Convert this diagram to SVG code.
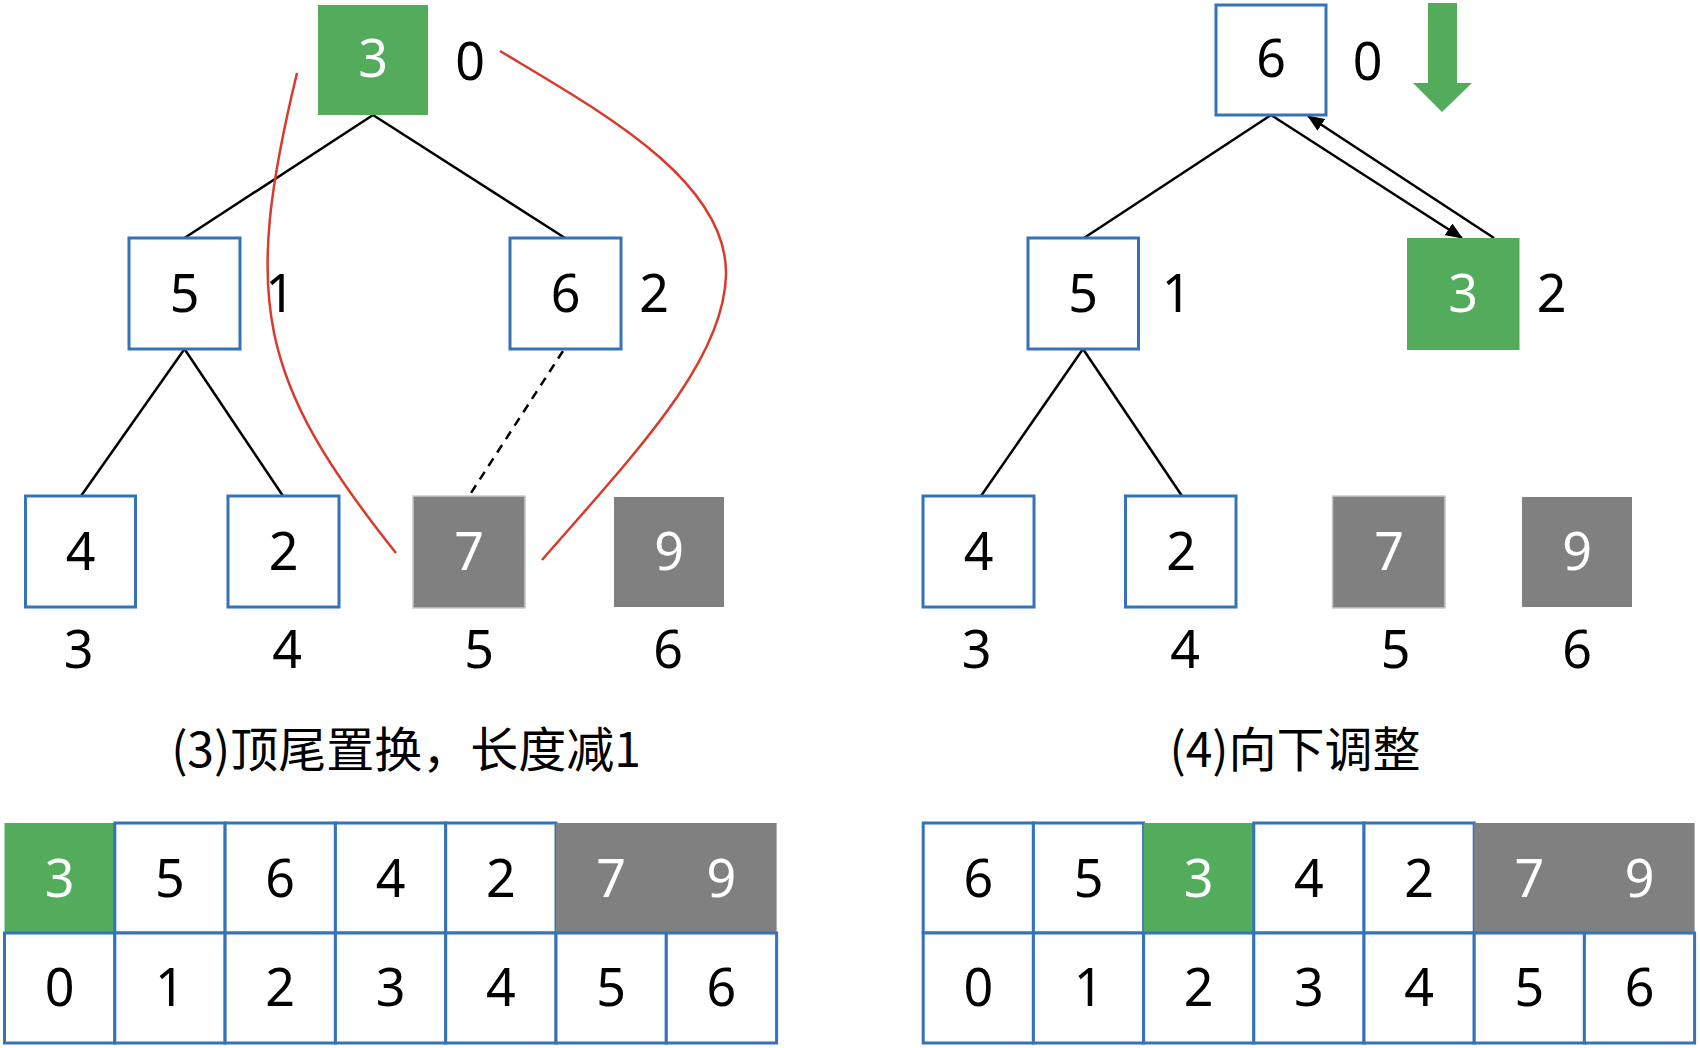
<svg xmlns="http://www.w3.org/2000/svg" width="1700" height="1048" viewBox="0 0 1700 1048">
<style>
.d{font-family:"Noto Sans","DejaVu Sans",sans-serif;font-size:52px;text-anchor:middle;fill:#000}
.w{fill:#fff}
.cap{font-family:"Noto Sans CJK SC","Noto Sans",sans-serif;font-size:48px;text-anchor:middle;fill:#000}
.bx{fill:#fff;stroke:#3473B7;stroke-width:3}
.gr{fill:#52AC5C}
.gy{fill:#808080}
.ln{stroke:#000;stroke-width:2.5;fill:none}
.rd{stroke:#D93A2B;stroke-width:2.5;fill:none}
</style>
<defs>
<marker id="ah" markerUnits="userSpaceOnUse" markerWidth="18" markerHeight="14" refX="16" refY="7" orient="auto">
<path d="M0,0 L17,7 L0,14 Z" fill="#000"/>
</marker>
</defs>
<rect width="1700" height="1048" fill="#fff"/>

<g id="connectors">
<line class="ln" x1="373" y1="115" x2="184.5" y2="238"/>
<line class="ln" x1="373" y1="115" x2="565" y2="238"/>
<line class="ln" x1="184.5" y1="349" x2="81" y2="496"/>
<line class="ln" x1="184.5" y1="349" x2="283" y2="496"/>
<line class="ln" x1="563" y1="351" x2="469" y2="496" stroke-dasharray="9,7"/>
<path class="rd" d="M297,73 C242,300 258,380 396,553"/>
<path class="rd" d="M500,51 C598,110 728,180 726,275 C724,360 638,450 542,560"/>
<line class="ln" x1="1271" y1="115" x2="1084" y2="238"/>
<line class="ln" x1="1271" y1="115" x2="1462" y2="238" marker-end="url(#ah)"/>
<line class="ln" x1="1494" y1="238" x2="1308" y2="116" marker-end="url(#ah)"/>
<line class="ln" x1="1083" y1="349" x2="981" y2="496"/>
<line class="ln" x1="1083" y1="349" x2="1182" y2="496"/>
</g>

<!-- Left tree -->
<g id="L0"><rect class="gr" x="318" y="5" width="110" height="110"/><text class="d w" x="373" y="77">3</text><text class="d" x="470" y="80">0</text></g>
<g id="L1"><rect class="bx" x="129" y="238" width="111" height="111"/><text class="d" x="184.5" y="312">5</text><text class="d" x="280" y="312">1</text></g>
<g id="L2"><rect class="bx" x="510" y="238" width="111" height="111"/><text class="d" x="565.5" y="312">6</text><text class="d" x="654" y="312">2</text></g>
<g id="L3"><rect class="bx" x="25.5" y="496" width="110" height="111"/><text class="d" x="80.5" y="570">4</text><text class="d" x="78.5" y="668">3</text></g>
<g id="L4"><rect class="bx" x="228" y="496" width="111" height="111"/><text class="d" x="283.5" y="570">2</text><text class="d" x="287" y="668">4</text></g>
<g id="L5"><rect class="gy" x="413" y="496" width="112" height="112" stroke="#c8c8c8" stroke-width="1.5"/><text class="d w" x="469" y="570">7</text><text class="d" x="479" y="668">5</text></g>
<g id="L6"><rect class="gy" x="614" y="497" width="110" height="110"/><text class="d w" x="669" y="570">9</text><text class="d" x="668" y="668">6</text></g>
<g id="cap3"><text class="cap" x="406" y="767">(3)顶尾置换，长度减1</text></g>

<!-- Right tree -->
<g id="R0"><rect class="bx" x="1216" y="5" width="110" height="110"/><text class="d" x="1271" y="77">6</text><text class="d" x="1367.5" y="80">0</text></g>
<g id="arrow"><polygon fill="#52AC5C" points="1428,3 1457,3 1457,83 1472,83 1442,112 1413,83 1428,83"/></g>
<g id="R1"><rect class="bx" x="1028" y="238" width="110.5" height="111"/><text class="d" x="1083" y="312">5</text><text class="d" x="1176.5" y="312">1</text></g>
<g id="R2"><rect class="gr" x="1407" y="238" width="112.5" height="112"/><text class="d w" x="1463" y="312">3</text><text class="d" x="1551.5" y="312">2</text></g>
<g id="R3"><rect class="bx" x="923" y="496" width="111" height="111"/><text class="d" x="978.5" y="570">4</text><text class="d" x="976.5" y="668">3</text></g>
<g id="R4"><rect class="bx" x="1125.5" y="496" width="110.5" height="111"/><text class="d" x="1181" y="570">2</text><text class="d" x="1185" y="668">4</text></g>
<g id="R5"><rect class="gy" x="1332.5" y="496" width="112.5" height="112" stroke="#c8c8c8" stroke-width="1.5"/><text class="d w" x="1389" y="570">7</text><text class="d" x="1395.5" y="668">5</text></g>
<g id="R6"><rect class="gy" x="1522" y="497" width="110" height="110"/><text class="d w" x="1577" y="570">9</text><text class="d" x="1577" y="668">6</text></g>
<g id="cap4"><text class="cap" x="1295" y="767">(4)向下调整</text></g>

<!-- Left array -->
<g id="arrL">
<rect class="gr" x="4.5" y="823" width="110.3" height="110"/>
<rect class="bx" x="114.8" y="823" width="110.3" height="110"/>
<rect class="bx" x="225.1" y="823" width="110.3" height="110"/>
<rect class="bx" x="335.4" y="823" width="110.3" height="110"/>
<rect class="bx" x="445.7" y="823" width="110.3" height="110"/>
<rect class="gy" x="556" y="823" width="220.6" height="110"/>
<rect class="bx" x="4.5" y="933" width="110.3" height="110"/>
<rect class="bx" x="114.8" y="933" width="110.3" height="110"/>
<rect class="bx" x="225.1" y="933" width="110.3" height="110"/>
<rect class="bx" x="335.4" y="933" width="110.3" height="110"/>
<rect class="bx" x="445.7" y="933" width="110.3" height="110"/>
<rect class="bx" x="556" y="933" width="110.3" height="110"/>
<rect class="bx" x="666.3" y="933" width="110.3" height="110"/>
<text class="d w" x="59.6" y="897">3</text>
<text class="d" x="169.9" y="897">5</text>
<text class="d" x="280.2" y="897">6</text>
<text class="d" x="390.5" y="897">4</text>
<text class="d" x="500.8" y="897">2</text>
<text class="d w" x="611.1" y="897">7</text>
<text class="d w" x="721.4" y="897">9</text>
<text class="d" x="59.6" y="1006">0</text>
<text class="d" x="169.9" y="1006">1</text>
<text class="d" x="280.2" y="1006">2</text>
<text class="d" x="390.5" y="1006">3</text>
<text class="d" x="500.8" y="1006">4</text>
<text class="d" x="611.1" y="1006">5</text>
<text class="d" x="721.4" y="1006">6</text>
</g>

<!-- Right array -->
<g id="arrR">
<rect class="bx" x="923.2" y="823" width="110.2" height="110"/>
<rect class="bx" x="1033.4" y="823" width="110.2" height="110"/>
<rect class="gr" x="1143.6" y="823" width="110.2" height="110"/>
<rect class="bx" x="1253.8" y="823" width="110.2" height="110"/>
<rect class="bx" x="1364" y="823" width="110.2" height="110"/>
<rect class="gy" x="1474.2" y="823" width="220.4" height="110"/>
<rect class="bx" x="923.2" y="933" width="110.2" height="110"/>
<rect class="bx" x="1033.4" y="933" width="110.2" height="110"/>
<rect class="bx" x="1143.6" y="933" width="110.2" height="110"/>
<rect class="bx" x="1253.8" y="933" width="110.2" height="110"/>
<rect class="bx" x="1364" y="933" width="110.2" height="110"/>
<rect class="bx" x="1474.2" y="933" width="110.2" height="110"/>
<rect class="bx" x="1584.4" y="933" width="110.2" height="110"/>
<text class="d" x="978.3" y="897">6</text>
<text class="d" x="1088.5" y="897">5</text>
<text class="d w" x="1198.7" y="897">3</text>
<text class="d" x="1308.9" y="897">4</text>
<text class="d" x="1419.1" y="897">2</text>
<text class="d w" x="1529.3" y="897">7</text>
<text class="d w" x="1639.5" y="897">9</text>
<text class="d" x="978.3" y="1006">0</text>
<text class="d" x="1088.5" y="1006">1</text>
<text class="d" x="1198.7" y="1006">2</text>
<text class="d" x="1308.9" y="1006">3</text>
<text class="d" x="1419.1" y="1006">4</text>
<text class="d" x="1529.3" y="1006">5</text>
<text class="d" x="1639.5" y="1006">6</text>
</g>
</svg>
